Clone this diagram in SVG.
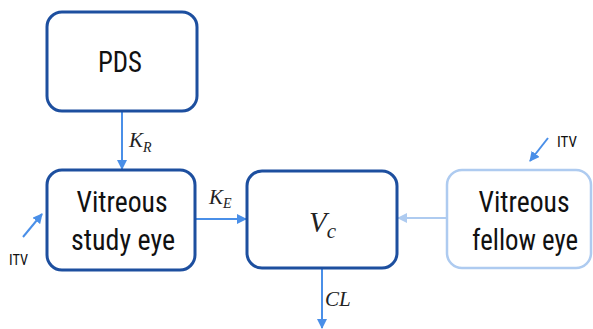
<svg xmlns="http://www.w3.org/2000/svg" width="593" height="329" viewBox="0 0 593 329">
<style>
.box{fill:#fff;stroke:#1d4f9f;stroke-width:3}
.light{fill:#fff;stroke:#aecbf0;stroke-width:2.5}
.lbl{font-family:"Roboto Condensed",Roboto,"Liberation Sans",sans-serif;font-weight:400;font-size:30px;fill:#111;text-anchor:middle}
.itv{font-family:"Roboto Condensed",Roboto,"Liberation Sans",sans-serif;font-weight:400;font-size:14px;fill:#111}
.math{font-family:"Liberation Serif","DejaVu Serif",serif;font-style:italic;fill:#222}
.arr{stroke:#4a8fe8;stroke-width:2;fill:none;marker-end:url(#ah)}
.arrl{stroke:#aecbf0;stroke-width:2;fill:none;marker-end:url(#ahl)}
</style>
<defs>
<marker id="ah" viewBox="0 0 10 10" refX="9" refY="5" markerWidth="5" markerHeight="5" orient="auto"><path d="M0,0 L10,5 L0,10 z" fill="#4a8fe8"/></marker>
<marker id="ahl" viewBox="0 0 10 10" refX="9" refY="5" markerWidth="5" markerHeight="5" orient="auto"><path d="M0,0 L10,5 L0,10 z" fill="#aecbf0"/></marker>
</defs>
<rect width="593" height="329" fill="#fff"/>
<g id="connectors">
<line class="arr" x1="122" y1="111" x2="122" y2="169"/>
<line class="arr" x1="195" y1="219" x2="246" y2="219"/>
<line class="arrl" x1="447" y1="218" x2="398" y2="218"/>
<line class="arr" x1="322" y1="268" x2="322" y2="328"/>
<line class="arr" x1="23" y1="237" x2="42" y2="214"/>
<line class="arr" x1="548" y1="138" x2="530" y2="161"/>
<text class="math" x="129" y="147" font-size="21">K<tspan font-size="14" dy="5">R</tspan></text>
<text class="math" x="209" y="204" font-size="21">K<tspan font-size="14" dy="4">E</tspan></text>
<text class="math" x="325" y="306" font-size="21">CL</text>
<text class="itv" x="9" y="265" textLength="19" lengthAdjust="spacingAndGlyphs">ITV</text>
<text class="itv" x="557" y="147" textLength="20" lengthAdjust="spacingAndGlyphs">ITV</text>
</g>
<g id="pds">
<rect class="box" x="47" y="12" width="150" height="99" rx="15"/>
<text class="lbl" x="120" y="72" font-size="34" textLength="44" lengthAdjust="spacingAndGlyphs">PDS</text>
</g>
<g id="study">
<rect class="box" x="47" y="170" width="148" height="100" rx="15"/>
<text class="lbl" x="122" y="212" textLength="91" lengthAdjust="spacingAndGlyphs">Vitreous</text>
<text class="lbl" x="123" y="250" textLength="104" lengthAdjust="spacingAndGlyphs">study eye</text>
</g>
<g id="vc">
<rect class="box" x="247" y="171" width="150" height="97" rx="15"/>
<text class="math" x="309" y="232" font-size="29">V<tspan font-size="21" dy="6">c</tspan></text>
</g>
<g id="fellow">
<rect class="light" x="447" y="170" width="144" height="98" rx="15"/>
<text class="lbl" x="524" y="212" textLength="91" lengthAdjust="spacingAndGlyphs">Vitreous</text>
<text class="lbl" x="525" y="250" font-size="28" textLength="106" lengthAdjust="spacingAndGlyphs">fellow eye</text>
</g>
</svg>
